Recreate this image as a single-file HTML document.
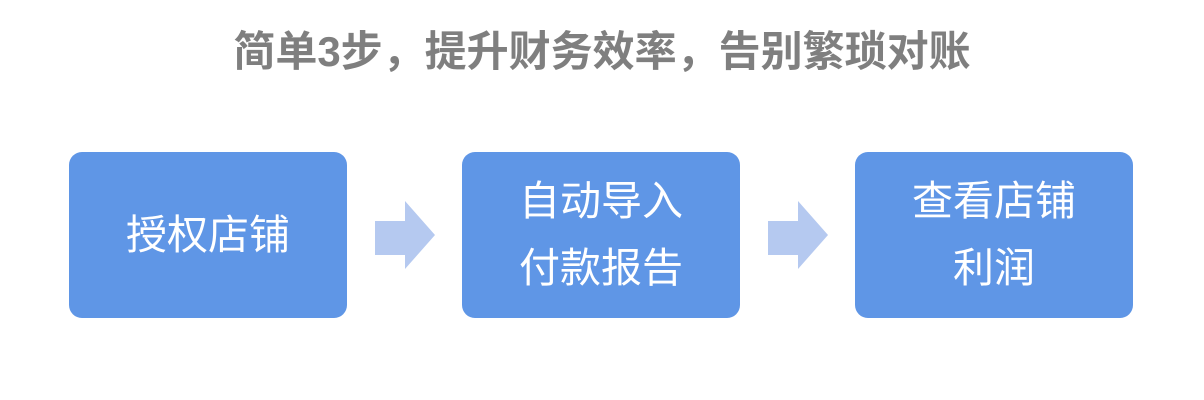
<!DOCTYPE html>
<html><head><meta charset="utf-8"><style>
body{margin:0;width:1204px;height:400px;background:#fff;position:relative;overflow:hidden;font-family:"Liberation Sans","Noto Sans CJK SC",sans-serif}
.t{position:absolute;left:0;width:1204px;top:26px;text-align:center;font-size:42px;font-weight:bold;color:#7f7f7f;line-height:52px}
.b{position:absolute;top:152px;width:278px;height:166px;background:#5f96e6;border-radius:13px;color:#fff;font-size:41px;display:flex;align-items:center;justify-content:center;text-align:center;line-height:67px}
svg{position:absolute;left:0;top:0}
</style></head><body>
<div class="t">简单3步，提升财务效率，告别繁琐对账</div>
<div class="b" style="left:69px">授权店铺</div>
<div class="b" style="left:462px">自动导入<br>付款报告</div>
<div class="b" style="left:855px">查看店铺<br>利润</div>
<svg width="1204" height="400">
<polygon points="375,221 405,221 405,201 435,235 405,269 405,255 375,255" fill="#b5c9f0"/>
<polygon points="768,221 798,221 798,201 828,235 798,269 798,255 768,255" fill="#b5c9f0"/>
</svg>
</body></html>
